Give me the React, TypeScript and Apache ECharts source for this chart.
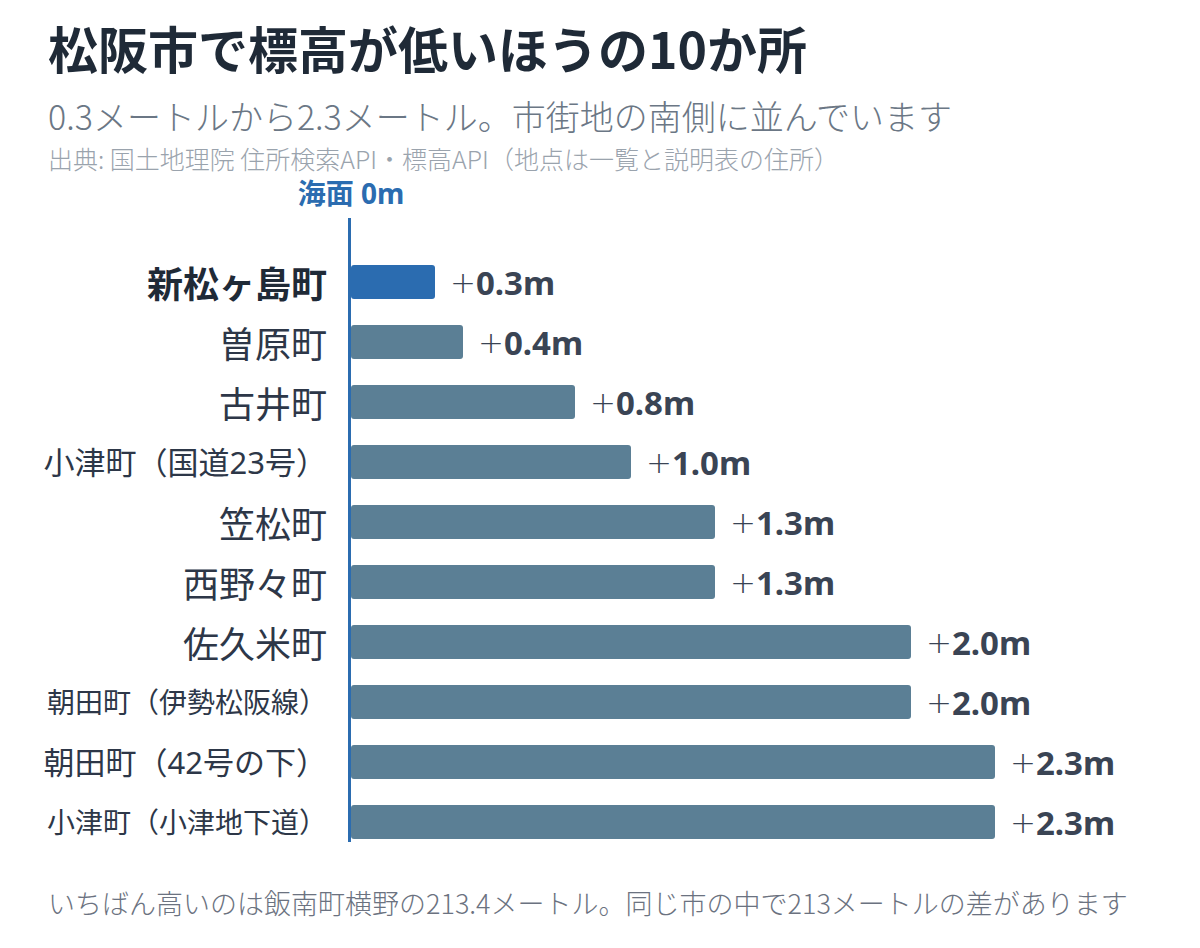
import { useEffect, useRef } from "react";
import * as echarts from "echarts";

const places = [
  "新松ヶ島町",
  "曽原町",
  "古井町",
  "小津町（国道23号）",
  "笠松町",
  "西野々町",
  "佐久米町",
  "朝田町（伊勢松阪線）",
  "朝田町（42号の下）",
  "小津町（小津地下道）",
];
const heights = [0.3, 0.4, 0.8, 1.0, 1.3, 1.3, 2.0, 2.0, 2.3, 2.3];
// which label style each row uses
const labelSize = ["top", "big", "big", "mid", "big", "big", "big", "small", "mid", "small"];

const titleText = "松阪市で標高が低いほうの10か所";
const subText = "0.3メートルから2.3メートル。市街地の南側に並んでいます";
const sourceText = "出典: 国土地理院 住所検索API・標高API（地点は一覧と説明表の住所）";
const noteText = "いちばん高いのは飯南町横野の213.4メートル。同じ市の中で213メートルの差があります";
const seaLabel = "海面 0m";

const font = "'Noto Sans', 'Noto Sans CJK JP', sans-serif";
const cjk = "'Noto Sans CJK JP', sans-serif";
const blue = "#2b6cb0";
const slate = "#5b7f95";

export default function App() {
  const ref = useRef<HTMLDivElement>(null);

  useEffect(() => {
    if (!ref.current) return;
    document.body.style.margin = "0";
    const chart = echarts.init(ref.current, undefined, { renderer: "svg" });

    chart.setOption({
      animation: false,
      backgroundColor: "#ffffff",
      title: [
        {
          text: titleText,
          left: 48,
          top: 22,
          padding: 0,
          textStyle: { fontFamily: cjk, fontSize: 50, fontWeight: "bold", color: "#1f2a37" },
        },
        {
          text: subText,
          left: 48,
          top: 98,
          padding: 0,
          textStyle: { fontFamily: cjk, fontSize: 34, fontWeight: 300, color: "#6b7785" },
        },
        {
          text: sourceText,
          left: 48,
          top: 147,
          padding: 0,
          textStyle: {
            fontFamily: cjk,
            fontSize: 25,
            lineHeight: 22,
            fontWeight: 300,
            color: "#9aa3ad",
          },
        },
        {
          text: noteText,
          left: 48,
          top: 889,
          padding: 0,
          textStyle: { fontFamily: cjk, fontSize: 27, fontWeight: 300, color: "#6b7280" },
        },
      ],
      grid: { left: 351, right: 205, top: 252, bottom: 96 },
      xAxis: {
        type: "value",
        min: 0,
        max: 2.3,
        show: false,
      },
      yAxis: {
        type: "category",
        data: places,
        inverse: true,
        axisLine: { show: false },
        axisTick: { show: false },
        axisLabel: {
          margin: 24,
          formatter: (v: string, i: number) => `{${labelSize[i]}|${v}}`,
          rich: {
            top: { fontFamily: cjk, fontSize: 36, fontWeight: "bold", color: "#1f2a37" },
            big: { fontFamily: cjk, fontSize: 36, color: "#2d3748" },
            mid: { fontFamily: font, fontSize: 31, color: "#2d3748" },
            small: { fontFamily: font, fontSize: 28, color: "#2d3748" },
          },
        },
      },
      series: [
        {
          type: "bar",
          data: heights.map((v, i) => ({
            value: v,
            itemStyle: { color: i === 0 ? blue : slate },
          })),
          barWidth: 34,
          itemStyle: { borderRadius: 3 },
          label: {
            show: true,
            position: "right",
            distance: 15,
            formatter: (p: { value: number }) => `{p|+}{n|${p.value.toFixed(1)}m}`,
            rich: {
              p: { fontFamily: "'DejaVu Sans'", fontSize: 31, fontWeight: 200, color: "#3a4454" },
              n: { fontFamily: font, fontSize: 33, fontWeight: "bold", color: "#3a4454" },
            },
          },
        },
      ],
    });

    // sea-level line and its label, placed from the x scale's zero
    const zero = chart.convertToPixel({ xAxisIndex: 0 }, 0) as number;
    chart.setOption({
      graphic: [
        {
          type: "line",
          shape: { x1: zero - 1.5, y1: 218, x2: zero - 1.5, y2: 842 },
          style: { stroke: blue, lineWidth: 3 },
          z: 10,
        },
        {
          type: "text",
          x: zero,
          y: 193,
          style: {
            text: seaLabel,
            fontFamily: font,
            fontSize: 28,
            lineHeight: 24,
            fontWeight: "bold",
            fill: blue,
            align: "center",
            verticalAlign: "middle",
          },
        },
      ],
    });

    return () => chart.dispose();
  }, []);

  return <div ref={ref} style={{ width: 1200, height: 948 }} />;
}
